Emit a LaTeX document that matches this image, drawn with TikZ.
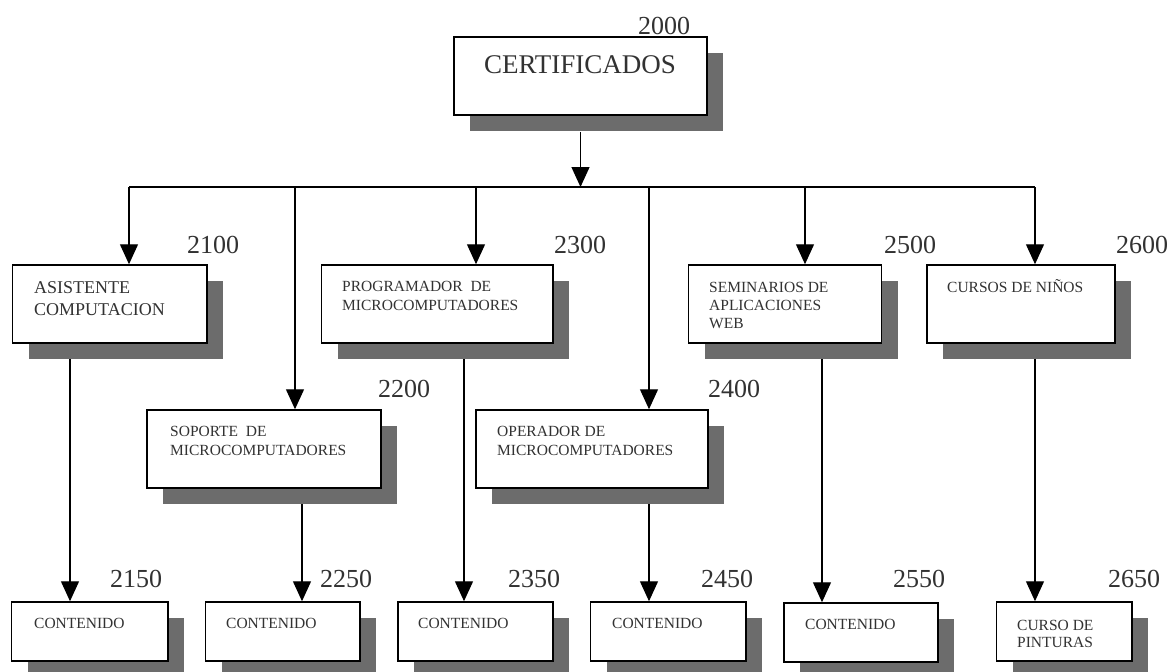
\documentclass[tikz,border=0pt]{standalone}
\usepackage{fontspec}
\setmainfont{Liberation Serif}
\usetikzlibrary{arrows.meta,fit}
\definecolor{txtgray}{RGB}{50,50,50}
\definecolor{shadowgray}{RGB}{108,108,108}
\tikzset{
  box/.style={draw=black, line width=1.5pt, fill=white, inner sep=0pt},
  conn/.style={line width=1.3pt},
  arr/.style={conn, -{Triangle[width=18pt,length=20pt]}},
  lbl/.style={text=txtgray, inner sep=0pt, anchor=base west, font=\fontsize{15.5}{19}\selectfont},
  lblbig/.style={lbl, font=\fontsize{18}{22}\selectfont},
  num/.style={text=txtgray, inner sep=0pt, anchor=base, font=\fontsize{26}{30}\selectfont},
}
\newcommand{\mkbox}[5]{%
  \fill[shadowgray] (#2+16,#3+16) rectangle (#4+16,#5+16);
  \node[box, fit={(#2,#3) (#4,#5)}] (#1) {};
}
\begin{document}
\begin{tikzpicture}[x=1pt,y=-1pt]
\fill[white] (0,0) rectangle (1171,672);
\useasboundingbox (0,0) rectangle (1171,672);

% boxes
\mkbox{cert}{454}{37}{707}{115}
\mkbox{asis}{12.5}{265}{207}{343}
\mkbox{prog}{321.5}{265}{553}{343}
\mkbox{semi}{688.5}{265}{881.5}{343}
\mkbox{curs}{927}{265}{1115}{343}
\mkbox{sopo}{147}{410}{381}{488}
\mkbox{oper}{476}{410}{708}{488}
\mkbox{ca}{11.5}{602}{168}{661}
\mkbox{cb}{205.5}{602}{360}{661}
\mkbox{cc}{398}{602}{553}{661}
\mkbox{cd}{590.5}{602}{746}{661}
\mkbox{ce}{784}{603}{938}{662}
\mkbox{cf}{996.5}{602}{1132}{661}

% texts
\node[lbl, anchor=base, font=\fontsize{27}{30}\selectfont] (tcert) at (580,73) {CERTIFICADOS};
\node[num] (n2000) at (664,34) {2000};

\node[lblbig] (tasis1) at (34,293) {ASISTENTE};
\node[lblbig] (tasis2) at (34,315) {COMPUTACION};
\node[num] (n2100) at (213,253) {2100};

\node[lbl] (tprog1) at (342,291) {PROGRAMADOR\ \ DE};
\node[lbl] (tprog2) at (342,310) {MICROCOMPUTADORES};
\node[num] (n2300) at (580,253) {2300};

\node[lbl] (tsemi1) at (709,292) {SEMINARIOS DE};
\node[lbl] (tsemi2) at (709,310) {APLICACIONES};
\node[lbl] (tsemi3) at (709,328) {WEB};
\node[num] (n2500) at (910,253) {2500};

\node[lbl] (tcurs) at (947,292) {CURSOS DE NIÑOS};
\node[num] (n2600) at (1142,253) {2600};

\node[lbl] (tsopo1) at (170,436) {SOPORTE\ \ DE};
\node[lbl] (tsopo2) at (170,455) {MICROCOMPUTADORES};
\node[num] (n2200) at (404,397) {2200};

\node[lbl] (toper1) at (497,436) {OPERADOR DE};
\node[lbl] (toper2) at (497,455) {MICROCOMPUTADORES};
\node[num] (n2400) at (734,397) {2400};

\node[lbl] (tca) at (34,628) {CONTENIDO};
\node[lbl] (tcb) at (226,628) {CONTENIDO};
\node[lbl] (tcc) at (418,628) {CONTENIDO};
\node[lbl] (tcd) at (612,628) {CONTENIDO};
\node[lbl] (tce) at (805,629) {CONTENIDO};
\node[lbl] (tcf1) at (1017,630) {CURSO DE};
\node[lbl] (tcf2) at (1017,647) {PINTURAS};
\node[num] (n2150) at (136,587) {2150};
\node[num] (n2250) at (346,587) {2250};
\node[num] (n2350) at (534,587) {2350};
\node[num] (n2450) at (727,587) {2450};
\node[num] (n2550) at (919,587) {2550};
\node[num] (n2650) at (1134,587) {2650};

% bus
\coordinate (busL) at (129,187);
\coordinate (busR) at (1035,187);
\draw[conn] (busL) -- (busR);
\draw[arr] ([yshift=-16pt]cert.south) -- (cert.south |- busL);

\coordinate (d1) at (129,187);
\coordinate (d2) at (295,187);
\coordinate (d3) at (476,187);
\coordinate (d4) at (649,187);
\coordinate (d5) at (805,187);
\coordinate (d6) at (1035,187);
\draw[arr] (d1) -- (d1 |- asis.north);
\draw[arr] (d2) -- (d2 |- sopo.north);
\draw[arr] (d3) -- (d3 |- prog.north);
\draw[arr] (d4) -- (d4 |- oper.north);
\draw[arr] (d5) -- (d5 |- semi.north);
\draw[arr] (d6) -- (d6 |- curs.north);

% down links
\coordinate (u1) at (70,359);
\coordinate (u2) at (302,504);
\coordinate (u3) at (464,359);
\coordinate (u4) at (649,504);
\coordinate (u5) at (822,359);
\coordinate (u6) at (1035,359);
\draw[arr] (u1) -- (u1 |- ca.north);
\draw[arr] (u2) -- (u2 |- cb.north);
\draw[arr] (u3) -- (u3 |- cc.north);
\draw[arr] (u4) -- (u4 |- cd.north);
\draw[arr] (u5) -- (u5 |- ce.north);
\draw[arr] (u6) -- (u6 |- cf.north);
\end{tikzpicture}
\end{document}
